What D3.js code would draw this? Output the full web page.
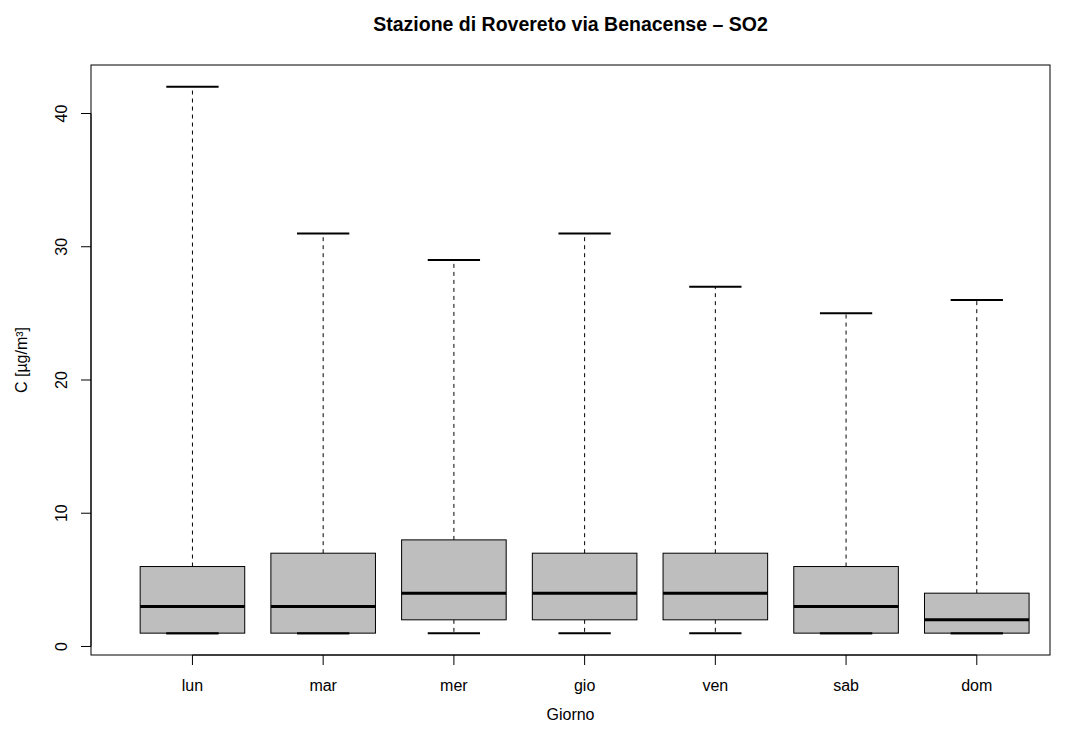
<!DOCTYPE html>
<html><head><meta charset="utf-8">
<script src="https://cdn.jsdelivr.net/npm/d3@7"></script>
<style>body{margin:0;background:#fff}svg{display:block}text{font-family:"Liberation Sans",Arial,sans-serif}</style>
</head><body><svg id="c" width="1066" height="731"></svg>
<script>
const days = ["lun","mar","mer","gio","ven","sab","dom"];
const mins = [1,1,1,1,1,1,1];
const q1s = [1,1,2,2,2,1,1];
const medians = [3,3,4,4,4,3,2];
const q3s = [6,7,8,7,7,6,4];
const maxs = [42,31,29,31,27,25,26];
const yTicks = [0,10,20,30,40];
const title = "Stazione di Rovereto via Benacense \u2013 SO2";
const xTitle = "Giorno";
const yTitle = "C [\u00b5g/m\u00b3]";

const svg = d3.select("#c");
const L=91,R=1050,T=65,B=655;
const x = d3.scaleLinear().domain([0.224,7.56]).range([L,R]);
const y = d3.scaleLinear().domain([-0.64,43.64]).range([B,T]);
const data = days.map((d,i)=>({d,i:i+1,mn:mins[i],q1:q1s[i],md:medians[i],q3:q3s[i],mx:maxs[i]}));
const hw=0.4, sw=0.2;
const g = svg.append("g");
data.forEach(p=>{
  g.append("line").attr("x1",x(p.i)).attr("x2",x(p.i)).attr("y1",y(p.q3)).attr("y2",y(p.mx))
   .attr("stroke","#000").attr("stroke-dasharray","4,4");
  g.append("line").attr("x1",x(p.i)).attr("x2",x(p.i)).attr("y1",y(p.q1)).attr("y2",y(p.mn))
   .attr("stroke","#000").attr("stroke-dasharray","4,4");
  g.append("line").attr("x1",x(p.i-sw)).attr("x2",x(p.i+sw)).attr("y1",y(p.mx)).attr("y2",y(p.mx)).attr("stroke","#000").attr("stroke-width",2);
  g.append("line").attr("x1",x(p.i-sw)).attr("x2",x(p.i+sw)).attr("y1",y(p.mn)).attr("y2",y(p.mn)).attr("stroke","#000").attr("stroke-width",2);
  g.append("rect").attr("x",x(p.i-hw)).attr("width",x(p.i+hw)-x(p.i-hw)).attr("y",y(p.q3)).attr("height",y(p.q1)-y(p.q3))
   .attr("fill","#bebebe").attr("stroke","#000").attr("stroke-width",1);
  g.append("line").attr("x1",x(p.i-hw)).attr("x2",x(p.i+hw)).attr("y1",y(p.md)).attr("y2",y(p.md)).attr("stroke","#000").attr("stroke-width",3);
  if (p.q1===p.mn) {
    g.append("line").attr("x1",x(p.i-sw)).attr("x2",x(p.i+sw)).attr("y1",y(p.mn)).attr("y2",y(p.mn)).attr("stroke","#000").attr("stroke-width",2);
  }
});
svg.append("rect").attr("x",L).attr("y",T).attr("width",R-L).attr("height",B-T).attr("fill","none").attr("stroke","#000");
// y axis
const ya = svg.append("g").attr("transform",`translate(${L},0)`);
ya.append("line").attr("x1",0).attr("x2",0).attr("y1",y(0)).attr("y2",y(40)).attr("stroke","#000");
yTicks.forEach(t=>{
  ya.append("line").attr("x1",0).attr("x2",-10).attr("y1",y(t)).attr("y2",y(t)).attr("stroke","#000");
  ya.append("text").attr("transform",`translate(-24,${y(t)}) rotate(-90)`).attr("text-anchor","middle").attr("font-size",16).text(t);
});
// x axis
const xa = svg.append("g").attr("transform",`translate(0,${B})`);
xa.append("line").attr("x1",x(1)).attr("x2",x(7)).attr("y1",0).attr("y2",0).attr("stroke","#000");
days.forEach((d,i)=>{
  xa.append("line").attr("x1",x(i+1)).attr("x2",x(i+1)).attr("y1",0).attr("y2",10).attr("stroke","#000");
  xa.append("text").attr("x",x(i+1)).attr("y",36).attr("text-anchor","middle").attr("font-size",16).text(d);
});
svg.append("text").attr("x",(L+R)/2).attr("y",31).attr("text-anchor","middle").attr("font-size",19.5).attr("font-weight","bold").text(title);
svg.append("text").attr("x",(L+R)/2).attr("y",720).attr("text-anchor","middle").attr("font-size",16).text(xTitle);
svg.append("text").attr("transform",`translate(27,${(T+B)/2}) rotate(-90)`).attr("text-anchor","middle").attr("font-size",16).text(yTitle);
</script></body></html>
